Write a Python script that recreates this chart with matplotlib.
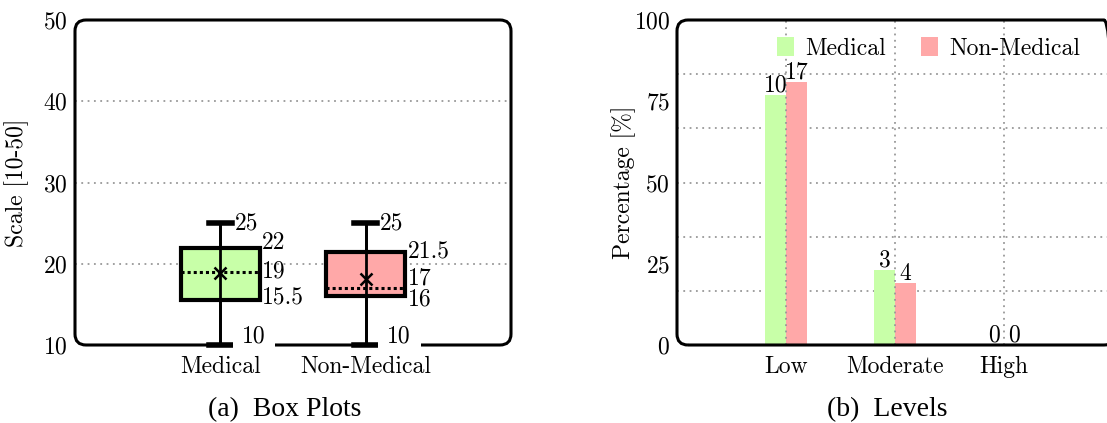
import matplotlib.pyplot as plt
from matplotlib.patches import FancyBboxPatch
import numpy as np

plt.rcParams["font.family"] = "cmr10"
plt.rcParams["axes.formatter.use_mathtext"] = True
plt.rcParams["mathtext.fontset"] = "cm"
plt.rcParams["font.size"] = 17

GROUPS = ["Medical", "Non-Medical"]
GROUP_COLORS = ["#c8ffa8", "#ffa8a8"]

# box plot summary on the 10-50 scale
BOX_MIN = [10, 10]
BOX_Q1 = [15.5, 16]
BOX_MED = [19, 17]
BOX_Q3 = [22, 21.5]
BOX_MAX = [25, 25]
BOX_MEAN = [18.9, 18.1]

# levels: counts and percentages per group
LEVELS = ["Low", "Moderate", "High"]
MED_COUNTS = [10, 3, 0]
NONMED_COUNTS = [17, 4, 0]
MED_PCT = [76.9, 23.1, 0.0]
NONMED_PCT = [81.0, 19.0, 0.0]

W, H = 1107, 423
GRID_KW = dict(color="#999999", lw=1.3, ls=(0, (1, 2.5)), zorder=1)


def rounded_frame(ax, w_px, h_px, r_px=11):
    for s in ax.spines.values():
        s.set_visible(False)
    frame = FancyBboxPatch(
        (0, 0), 1, 1,
        boxstyle=f"round,pad=0,rounding_size={r_px / w_px}",
        mutation_aspect=w_px / h_px,
        transform=ax.transAxes,
        fill=False, lw=2.2, ec="black", clip_on=False, zorder=3,
    )
    ax.add_patch(frame)


fig = plt.figure(figsize=(W / 100, H / 100), dpi=100)
ax1 = fig.add_axes([75 / W, 1 - 345 / H, 436 / W, 325 / H])
ax2 = fig.add_axes([677 / W, 1 - 345 / H, 438 / W, 325 / H])

# ---- (a) box plots
positions = [1, 2]
stats = []
for i, g in enumerate(GROUPS):
    stats.append(dict(med=BOX_MED[i], q1=BOX_Q1[i], q3=BOX_Q3[i],
                      whislo=BOX_MIN[i], whishi=BOX_MAX[i],
                      mean=BOX_MEAN[i], fliers=[], label=g))

bp = ax1.bxp(stats, positions=positions, widths=0.54, patch_artist=True,
             showmeans=True, capwidths=0.16, manage_ticks=False,
             boxprops=dict(lw=3, edgecolor="black"),
             medianprops=dict(color="black", ls=(0, (1, 1)), lw=2.2),
             whiskerprops=dict(lw=2, color="black"),
             capprops=dict(lw=4, color="black"),
             meanprops=dict(marker="x", mec="black", ms=8, mew=1.8))
for patch, c in zip(bp["boxes"], GROUP_COLORS):
    patch.set_facecolor(c)
for key in bp:
    for art in bp[key]:
        art.set_clip_on(False)
        art.set_zorder(4)
for art in bp["means"]:
    art.set_zorder(6)
ax1.vlines(positions, BOX_MIN, BOX_MAX, color="black", lw=2, zorder=5)

q3_off = [3, 0]
med_off = [0, 7]
q1_off = [2, -2]
for i, p in enumerate(positions):
    ax1.annotate(f"{BOX_MAX[i]:g}", (p + 0.08, BOX_MAX[i]), xytext=(2, 0),
                 textcoords="offset points", va="center", ha="left")
    ax1.annotate(f"{BOX_Q3[i]:g}", (p + 0.27, BOX_Q3[i]), xytext=(2, q3_off[i]),
                 textcoords="offset points", va="center", ha="left")
    ax1.annotate(f"{BOX_MED[i]:g}", (p + 0.27, BOX_MED[i]), xytext=(2, med_off[i]),
                 textcoords="offset points", va="center", ha="left")
    ax1.annotate(f"{BOX_Q1[i]:g}", (p + 0.27, BOX_Q1[i]), xytext=(2, q1_off[i]),
                 textcoords="offset points", va="center", ha="left")
    ax1.annotate(f"{BOX_MIN[i]:g}", (p + 0.15, BOX_MIN[i]), xytext=(0, 6),
                 textcoords="offset points", va="center", ha="left", zorder=7,
                 bbox=dict(boxstyle="square,pad=0.4", fc="white", ec="none"))

for y in [20, 30, 40]:
    ax1.axhline(y, **GRID_KW)
ax1.set_xlim(0, 3)
ax1.set_ylim(10, 50)
ax1.set_yticks([10, 20, 30, 40, 50])
ax1.set_xticks(positions)
ax1.set_xticklabels(GROUPS)
ax1.tick_params(length=0, pad=5)
ax1.tick_params(axis="x", pad=8)
ax1.xaxis.set_zorder(8)
ax1.set_ylabel("Scale [10-50]")
ax1.yaxis.set_label_coords(-(75 - 29) / 436, 0.5)
rounded_frame(ax1, 436, 325)

# ---- (b) levels
x = np.arange(1, len(LEVELS) + 1)
bw = 0.19
b1 = ax2.bar(x - bw, MED_PCT, width=bw, align="edge", color=GROUP_COLORS[0],
             label=GROUPS[0], zorder=2)
b2 = ax2.bar(x, NONMED_PCT, width=bw, align="edge", color=GROUP_COLORS[1],
             label=GROUPS[1], zorder=2)
ax2.bar_label(b1, labels=[str(v) for v in MED_COUNTS], padding=-1, zorder=5)
ax2.bar_label(b2, labels=[str(v) for v in NONMED_COUNTS], padding=-1, zorder=5)

for k in range(1, 6):
    ax2.axhline(100 * k / 6, **GRID_KW)
for xv in x:
    ax2.axvline(xv, **dict(GRID_KW, zorder=2.5))

ax2.set_xlim(0, 4 * 438 / 436)
ax2.set_ylim(0, 100)
ax2.set_yticks([0, 25, 50, 75, 100])
ax2.set_xticks(x)
ax2.set_xticklabels(LEVELS)
ax2.tick_params(length=0, pad=5)
ax2.tick_params(axis="x", pad=8)
ax2.set_ylabel("Percentage [%]")
ax2.yaxis.set_label_coords(-(677 - 636) / 438, 0.5)
ax2.legend(ncol=2, loc="upper left", frameon=False, handlelength=0.7,
           handleheight=0.85, columnspacing=1.5, handletextpad=0.5,
           borderpad=0, borderaxespad=0,
           bbox_to_anchor=((777 - 677) / 438, 1 - 17 / 325))
rounded_frame(ax2, 438, 325)

sub_kw = dict(ha="center", va="center", family="Liberation Serif", fontsize=20)
fig.text(285 / W, 1 - 410 / H, "(a)  Box Plots", **sub_kw)
fig.text(887 / W, 1 - 410 / H, "(b)  Levels", **sub_kw)

fig.savefig("out.png", dpi=100)
